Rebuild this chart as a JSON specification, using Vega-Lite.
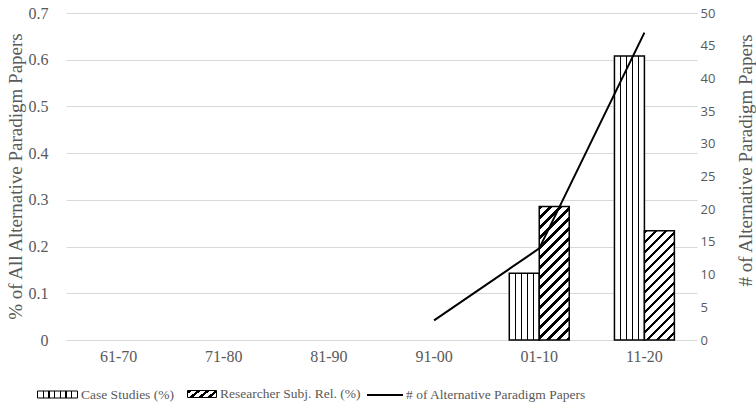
{
  "$schema": "https://vega.github.io/schema/vega-lite/v6.json",
  "width": 631,
  "height": 327,
  "autosize": "none",
  "padding": {"left": 66, "top": 13, "right": 59, "bottom": 70},
  "background": "white",
  "config": {
    "view": {"stroke": null},
    "axis": {"labelColor": "#595959", "titleColor": "#595959", "titleFontWeight": "normal"},
    "legend": {
      "title": null,
      "orient": "none",
      "direction": "horizontal",
      "padding": 0,
      "labelFont": "Liberation Serif",
      "labelFontSize": 13.5,
      "labelColor": "#595959",
      "labelOffset": 3,
      "labelLimit": 400,
      "symbolStrokeWidth": 1,
      "symbolOpacity": 1
    }
  },
  "datasets": {
    "bars": [
      {"period": "01-10", "series": "Case Studies (%)", "pct": 0.143},
      {"period": "01-10", "series": "Researcher Subj. Rel. (%)", "pct": 0.286},
      {"period": "11-20", "series": "Case Studies (%)", "pct": 0.608},
      {"period": "11-20", "series": "Researcher Subj. Rel. (%)", "pct": 0.234}
    ],
    "papers": [
      {"period": "91-00", "series": "# of Alternative Paradigm Papers", "count": 3},
      {"period": "01-10", "series": "# of Alternative Paradigm Papers", "count": 14},
      {"period": "11-20", "series": "# of Alternative Paradigm Papers", "count": 47}
    ]
  },
  "layer": [
    {
      "data": {"name": "bars"},
      "transform": [{"filter": "datum.series === 'Case Studies (%)'"}],
      "mark": {"type": "bar", "strokeWidth": 1.5},
      "encoding": {
        "x": {
          "field": "period", "type": "nominal",
          "scale": {"domain": ["61-70", "71-80", "81-90", "91-00", "01-10", "11-20"], "paddingInner": 0.43, "paddingOuter": 0.215},
          "axis": {"title": null, "domain": false, "ticks": false, "labelAngle": 0, "labelFont": "Liberation Serif", "labelFontSize": 16, "labelPadding": 8}
        },
        "xOffset": {
          "field": "series", "type": "nominal",
          "scale": {"domain": ["Case Studies (%)", "Researcher Subj. Rel. (%)"], "paddingInner": 0, "paddingOuter": 0}
        },
        "y": {
          "field": "pct", "type": "quantitative",
          "scale": {"domain": [0, 0.7], "nice": false},
          "axis": {
            "title": "% of All Alternative Paradigm Papers",
            "values": [0, 0.1, 0.2, 0.3, 0.4, 0.5, 0.6, 0.7],
            "format": "~g",
            "domain": false, "ticks": false,
            "grid": true, "gridColor": "#d9d9d9", "gridWidth": 1,
            "labelFont": "Liberation Serif", "labelFontSize": 16, "labelPadding": 18,
            "titleFont": "Liberation Serif", "titleFontSize": 19,
            "titleAngle": -90, "titleX": -51, "titleY": 163, "titleAlign": "center", "titleBaseline": "middle"
          }
        },
        "stroke": {
          "field": "series", "type": "nominal",
          "scale": {"range": ["black"]},
          "legend": {"legendX": -29, "legendY": 361, "symbolSize": 1600, "symbolType": "M-1,-0.175H1V0.175H-1Z"}
        },
        "fill": {
          "condition": {"test": "datum.series === 'Case Studies (%)'", "value": {
            "gradient": "linear", "x1": 0, "y1": 0, "x2": 1, "y2": 0,
            "stops": [
              {"offset": 0, "color": "white"},
              {"offset": 0.175, "color": "white"}, {"offset": 0.175, "color": "black"}, {"offset": 0.225, "color": "black"}, {"offset": 0.225, "color": "white"},
              {"offset": 0.375, "color": "white"}, {"offset": 0.375, "color": "black"}, {"offset": 0.425, "color": "black"}, {"offset": 0.425, "color": "white"},
              {"offset": 0.575, "color": "white"}, {"offset": 0.575, "color": "black"}, {"offset": 0.625, "color": "black"}, {"offset": 0.625, "color": "white"},
              {"offset": 0.775, "color": "white"}, {"offset": 0.775, "color": "black"}, {"offset": 0.825, "color": "black"}, {"offset": 0.825, "color": "white"},
              {"offset": 1, "color": "white"}
            ]
          }},
          "value": {
            "gradient": "linear", "x1": 0, "y1": 0, "x2": 1, "y2": 0,
            "stops": [
              {"offset": 0, "color": "white"},
              {"offset": 0.127, "color": "white"}, {"offset": 0.127, "color": "black"}, {"offset": 0.159, "color": "black"}, {"offset": 0.159, "color": "white"},
              {"offset": 0.27, "color": "white"}, {"offset": 0.27, "color": "black"}, {"offset": 0.302, "color": "black"}, {"offset": 0.302, "color": "white"},
              {"offset": 0.413, "color": "white"}, {"offset": 0.413, "color": "black"}, {"offset": 0.445, "color": "black"}, {"offset": 0.445, "color": "white"},
              {"offset": 0.555, "color": "white"}, {"offset": 0.555, "color": "black"}, {"offset": 0.587, "color": "black"}, {"offset": 0.587, "color": "white"},
              {"offset": 0.698, "color": "white"}, {"offset": 0.698, "color": "black"}, {"offset": 0.73, "color": "black"}, {"offset": 0.73, "color": "white"},
              {"offset": 0.841, "color": "white"}, {"offset": 0.841, "color": "black"}, {"offset": 0.873, "color": "black"}, {"offset": 0.873, "color": "white"},
              {"offset": 1, "color": "white"}
            ]
          }
        }
      }
    },
    {
      "data": {"name": "bars"},
      "transform": [{"filter": "datum.series === 'Researcher Subj. Rel. (%)'"}],
      "mark": {"type": "bar", "strokeWidth": 1.5},
      "encoding": {
        "x": {
          "field": "period", "type": "nominal",
          "scale": {"domain": ["61-70", "71-80", "81-90", "91-00", "01-10", "11-20"], "paddingInner": 0.43, "paddingOuter": 0.215}
        },
        "xOffset": {
          "field": "series", "type": "nominal",
          "scale": {"domain": ["Case Studies (%)", "Researcher Subj. Rel. (%)"], "paddingInner": 0, "paddingOuter": 0}
        },
        "y": {
          "field": "pct", "type": "quantitative",
          "scale": {"domain": [0, 0.7], "nice": false},
          "axis": null
        },
        "stroke": {
          "field": "series", "type": "nominal",
          "scale": {"range": ["black"]},
          "legend": {"legendX": 121, "legendY": 366, "symbolSize": 841, "symbolType": "M-1,-0.24H1V0.24H-1Z"}
        },
        "fill": {
          "condition": [
            {"test": "datum.period === '01-10'", "value": {
              "gradient": "linear", "x1": 0, "y1": 0, "x2": 0.2618, "y2": 1.1657,
              "stops": [
                {"offset": 0, "color": "black"}, {"offset": 0.0214, "color": "black"}, {"offset": 0.0214, "color": "white"},
                {"offset": 0.0611, "color": "white"}, {"offset": 0.0611, "color": "black"}, {"offset": 0.0825, "color": "black"}, {"offset": 0.0825, "color": "white"},
                {"offset": 0.1222, "color": "white"}, {"offset": 0.1222, "color": "black"}, {"offset": 0.1436, "color": "black"}, {"offset": 0.1436, "color": "white"},
                {"offset": 0.1834, "color": "white"}, {"offset": 0.1834, "color": "black"}, {"offset": 0.2048, "color": "black"}, {"offset": 0.2048, "color": "white"},
                {"offset": 0.2445, "color": "white"}, {"offset": 0.2445, "color": "black"}, {"offset": 0.2659, "color": "black"}, {"offset": 0.2659, "color": "white"},
                {"offset": 0.3056, "color": "white"}, {"offset": 0.3056, "color": "black"}, {"offset": 0.3270, "color": "black"}, {"offset": 0.3270, "color": "white"},
                {"offset": 0.3667, "color": "white"}, {"offset": 0.3667, "color": "black"}, {"offset": 0.3881, "color": "black"}, {"offset": 0.3881, "color": "white"},
                {"offset": 0.4279, "color": "white"}, {"offset": 0.4279, "color": "black"}, {"offset": 0.4493, "color": "black"}, {"offset": 0.4493, "color": "white"},
                {"offset": 0.4890, "color": "white"}, {"offset": 0.4890, "color": "black"}, {"offset": 0.5104, "color": "black"}, {"offset": 0.5104, "color": "white"},
                {"offset": 0.5501, "color": "white"}, {"offset": 0.5501, "color": "black"}, {"offset": 0.5715, "color": "black"}, {"offset": 0.5715, "color": "white"},
                {"offset": 0.6112, "color": "white"}, {"offset": 0.6112, "color": "black"}, {"offset": 0.6326, "color": "black"}, {"offset": 0.6326, "color": "white"},
                {"offset": 0.6724, "color": "white"}, {"offset": 0.6724, "color": "black"}, {"offset": 0.6938, "color": "black"}, {"offset": 0.6938, "color": "white"},
                {"offset": 0.7335, "color": "white"}, {"offset": 0.7335, "color": "black"}, {"offset": 0.7549, "color": "black"}, {"offset": 0.7549, "color": "white"},
                {"offset": 0.7946, "color": "white"}, {"offset": 0.7946, "color": "black"}, {"offset": 0.8160, "color": "black"}, {"offset": 0.8160, "color": "white"},
                {"offset": 0.8557, "color": "white"}, {"offset": 0.8557, "color": "black"}, {"offset": 0.8772, "color": "black"}, {"offset": 0.8772, "color": "white"},
                {"offset": 0.9169, "color": "white"}, {"offset": 0.9169, "color": "black"}, {"offset": 0.9383, "color": "black"}, {"offset": 0.9383, "color": "white"},
                {"offset": 0.9780, "color": "white"}, {"offset": 0.9780, "color": "black"}, {"offset": 1, "color": "black"}
              ]
            }},
            {"test": "datum.period === '11-20'", "value": {
              "gradient": "linear", "x1": 0, "y1": 0, "x2": 0.3253, "y2": 1.1851,
              "stops": [
                {"offset": 0, "color": "black"}, {"offset": 0.0251, "color": "black"}, {"offset": 0.0251, "color": "white"},
                {"offset": 0.0718, "color": "white"}, {"offset": 0.0718, "color": "black"}, {"offset": 0.0969, "color": "black"}, {"offset": 0.0969, "color": "white"},
                {"offset": 0.1436, "color": "white"}, {"offset": 0.1436, "color": "black"}, {"offset": 0.1687, "color": "black"}, {"offset": 0.1687, "color": "white"},
                {"offset": 0.2154, "color": "white"}, {"offset": 0.2154, "color": "black"}, {"offset": 0.2405, "color": "black"}, {"offset": 0.2405, "color": "white"},
                {"offset": 0.2872, "color": "white"}, {"offset": 0.2872, "color": "black"}, {"offset": 0.3123, "color": "black"}, {"offset": 0.3123, "color": "white"},
                {"offset": 0.3589, "color": "white"}, {"offset": 0.3589, "color": "black"}, {"offset": 0.3841, "color": "black"}, {"offset": 0.3841, "color": "white"},
                {"offset": 0.4307, "color": "white"}, {"offset": 0.4307, "color": "black"}, {"offset": 0.4559, "color": "black"}, {"offset": 0.4559, "color": "white"},
                {"offset": 0.5025, "color": "white"}, {"offset": 0.5025, "color": "black"}, {"offset": 0.5276, "color": "black"}, {"offset": 0.5276, "color": "white"},
                {"offset": 0.5743, "color": "white"}, {"offset": 0.5743, "color": "black"}, {"offset": 0.5994, "color": "black"}, {"offset": 0.5994, "color": "white"},
                {"offset": 0.6461, "color": "white"}, {"offset": 0.6461, "color": "black"}, {"offset": 0.6712, "color": "black"}, {"offset": 0.6712, "color": "white"},
                {"offset": 0.7179, "color": "white"}, {"offset": 0.7179, "color": "black"}, {"offset": 0.7430, "color": "black"}, {"offset": 0.7430, "color": "white"},
                {"offset": 0.7897, "color": "white"}, {"offset": 0.7897, "color": "black"}, {"offset": 0.8148, "color": "black"}, {"offset": 0.8148, "color": "white"},
                {"offset": 0.8615, "color": "white"}, {"offset": 0.8615, "color": "black"}, {"offset": 0.8866, "color": "black"}, {"offset": 0.8866, "color": "white"},
                {"offset": 0.9332, "color": "white"}, {"offset": 0.9332, "color": "black"}, {"offset": 0.9584, "color": "black"}, {"offset": 0.9584, "color": "white"},
                {"offset": 1, "color": "white"}
              ]
            }}
          ],
          "value": {
            "gradient": "linear", "x1": 0, "y1": 0, "x2": 1.173, "y2": 0.2831,
            "stops": [
              {"offset": 0, "color": "black"}, {"offset": 0.111, "color": "black"}, {"offset": 0.111, "color": "white"},
              {"offset": 0.25, "color": "white"}, {"offset": 0.25, "color": "black"}, {"offset": 0.361, "color": "black"}, {"offset": 0.361, "color": "white"},
              {"offset": 0.5, "color": "white"}, {"offset": 0.5, "color": "black"}, {"offset": 0.611, "color": "black"}, {"offset": 0.611, "color": "white"},
              {"offset": 0.75, "color": "white"}, {"offset": 0.75, "color": "black"}, {"offset": 0.861, "color": "black"}, {"offset": 0.861, "color": "white"},
              {"offset": 1, "color": "white"}
            ]
          }
        }
      }
    },
    {
      "data": {"name": "papers"},
      "mark": {"type": "line", "strokeWidth": 2},
      "encoding": {
        "x": {
          "field": "period", "type": "nominal",
          "scale": {"domain": ["61-70", "71-80", "81-90", "91-00", "01-10", "11-20"], "paddingInner": 0.43, "paddingOuter": 0.215}
        },
        "y": {
          "field": "count", "type": "quantitative",
          "scale": {"domain": [0, 50], "nice": false},
          "axis": {
            "orient": "right",
            "title": "# of Alternative Paradigm Papers",
            "values": [0, 5, 10, 15, 20, 25, 30, 35, 40, 45, 50],
            "domain": false, "ticks": false, "grid": false,
            "labelFont": "Open Sans", "labelFontSize": 13, "labelPadding": 3,
            "titleFont": "Liberation Serif", "titleFontSize": 19,
            "titleAngle": -90, "titleX": 48, "titleY": 147, "titleAlign": "center", "titleBaseline": "middle"
          }
        },
        "stroke": {
          "field": "series", "type": "nominal",
          "scale": {"range": ["black"]},
          "legend": {"legendX": 300, "legendY": 363, "symbolSize": 1296, "symbolType": "M-1,0H1", "symbolStrokeWidth": 2, "labelOffset": 2}
        }
      }
    }
  ],
  "resolve": {
    "scale": {"y": "independent", "stroke": "independent"},
    "legend": {"stroke": "independent"}
  }
}
